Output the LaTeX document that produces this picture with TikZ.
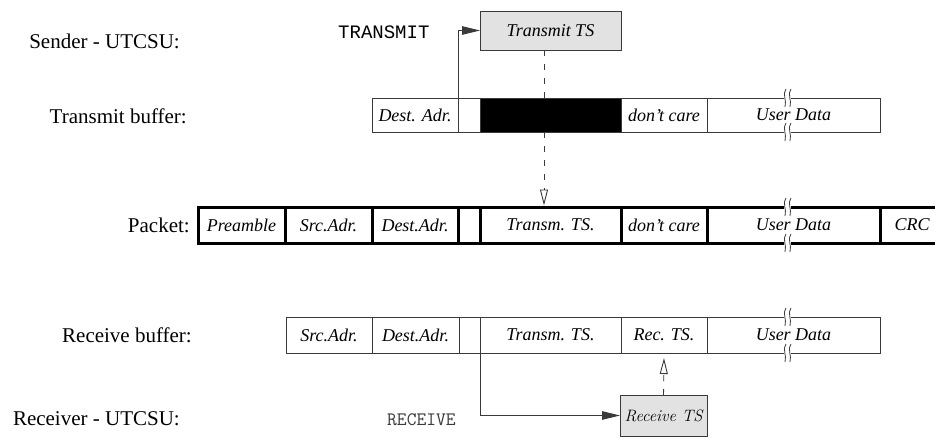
\documentclass[tikz,border=0pt]{standalone}
\usepackage{fontspec}
\setmainfont{Liberation Serif}
\setmonofont{Liberation Mono}
\newfontfamily\lmmono{Latin Modern Mono}
\newfontfamily\lmroman{Latin Modern Roman}
\usetikzlibrary{arrows.meta}

\definecolor{edge}{HTML}{3A3A3A}
\definecolor{boxfill}{HTML}{E2E2E2}

\tikzset{
  rowlabel/.style={anchor=base east, inner sep=0, font=\fontsize{21}{25}\selectfont},
  cell/.style={draw=edge, line width=1pt, inner sep=0, outer sep=0, fill=white,
               font=\fontsize{18}{21}\selectfont\itshape},
  pcell/.style={cell, draw=black, line width=3pt},
  tsbox/.style={cell, fill=boxfill},
  cmd/.style={anchor=base west, inner sep=0},
  callarrow/.style={draw=edge, line width=1pt, -{Triangle[length=18pt,width=8.5pt]}},
  copyline/.style={draw=edge, line width=0.9pt, dash pattern=on 6pt off 8pt,
                   -{Triangle[open,length=16pt,width=8pt,line width=0.9pt]}},
  brk/.pic={
    \fill[white] (-3.2,-1.8) rectangle (3.2,1.8);
    \draw[edge, line width=0.8pt] (-1.5,-9) .. controls (-5.5,-4) and (-0.5,2) .. (-2.5,9);
    \draw[edge, line width=0.8pt] (3.5,-9) .. controls (-0.5,-4) and (4.5,2) .. (2.5,9);
  }
}

\begin{document}
\begin{tikzpicture}[x=1pt, y=-1pt]
\useasboundingbox[fill=white] (0,0) rectangle (935,439);

% row labels
\node[rowlabel] (lsend) at (180,48) {Sender - UTCSU:};
\node[rowlabel] (ltbuf) at (187,123) {Transmit buffer:};
\node[rowlabel] (lpack) at (190,232) {Packet:};
\node[rowlabel] (lrbuf) at (192,342) {Receive buffer:};
\node[rowlabel] (lrecv) at (180,425) {Receiver - UTCSU:};

% sender timestamp unit
\node[tsbox, minimum width=141, minimum height=39] (tts) at (550.5,30.5) {Transmit TS};
\node[cmd, font=\fontsize{19}{22}\selectfont\ttfamily] (ctx) at (338,38) {TRANSMIT};

% transmit buffer
\node[cell, minimum width=86,  minimum height=34] (tdest)  at (415,115)   {Dest. Adr.};
\node[cell, minimum width=22,  minimum height=34] (tblank) at (469,115)   {};
\node[cell, minimum width=141, minimum height=34, fill=black] (tblack) at (550.5,115) {};
\node[cell, minimum width=86,  minimum height=34] (tdc)    at (664,115)   {don't care};
\node[cell, minimum width=173, minimum height=34] (tud)    at (793.5,115) {User Data};

% packet on the wire
\node[pcell, minimum width=87,  minimum height=36] (ppre)   at (241.5,225) {Preamble};
\node[pcell, minimum width=87,  minimum height=36] (psrc)   at (328.5,225) {Src.Adr.};
\node[pcell, minimum width=86,  minimum height=36] (pdest)  at (415,225)   {Dest.Adr.};
\node[pcell, minimum width=22,  minimum height=36] (pblank) at (469,225)   {};
\node[pcell, minimum width=141, minimum height=36] (ptts)   at (550.5,225) {Transm. TS.};
\node[pcell, minimum width=86,  minimum height=36] (pdc)    at (664,225)   {don't care};
\node[pcell, minimum width=173, minimum height=36] (pud)    at (793.5,225) {User Data};
\node[pcell, minimum width=64,  minimum height=36] (pcrc)   at (912,225)   {CRC};

% receive buffer
\node[cell, minimum width=86,  minimum height=36] (rsrc)   at (329,335)   {Src.Adr.};
\node[cell, minimum width=87,  minimum height=36] (rdest)  at (415.5,335) {Dest.Adr.};
\node[cell, minimum width=21,  minimum height=36] (rblank) at (469.5,335) {};
\node[cell, minimum width=141, minimum height=36] (rtts)   at (550.5,335) {Transm. TS.};
\node[cell, minimum width=86,  minimum height=36] (rrec)   at (664,335)   {Rec. TS.};
\node[cell, minimum width=173, minimum height=36] (rud)    at (793.5,335) {User Data};

% receiver timestamp unit
\node[tsbox, minimum width=87, minimum height=41,
      font=\fontsize{16.5}{20}\selectfont\lmroman\itshape] (rts) at (663.5,415.5) {Receive TS};
\node[cmd, text=edge, font=\fontsize{19}{22}\selectfont\lmmono] (crx) at (387,425) {RECEIVE};

% break marks on the user data fields
\path (tud.north) ++(-6,0) pic {brk};
\path (tud.south) ++(-6,0) pic {brk};
\path (pud.north) ++(-6,0) pic {brk};
\path (pud.south) ++(-6,0) pic {brk};
\path (rud.north) ++(-6,0) pic {brk};
\path (rud.south) ++(-6,0) pic {brk};

% control flow
\draw[callarrow] (tdest.south east) |- (tts.west);
\draw[callarrow] (rblank.south east) |- (rts.west);

% timestamp copies
\draw[draw=edge, line width=0.9pt, dash pattern=on 6pt off 8pt]
  ([xshift=-6.5]tts.south) -- ([xshift=-6.5]tblack.north);
\draw[copyline] ([xshift=-6.5]tblack.south) -- ([xshift=-6.5, yshift=1.5]ptts.north);
\draw[copyline] (rts.north) -- ([yshift=-5]rrec.south);
\end{tikzpicture}
\end{document}
